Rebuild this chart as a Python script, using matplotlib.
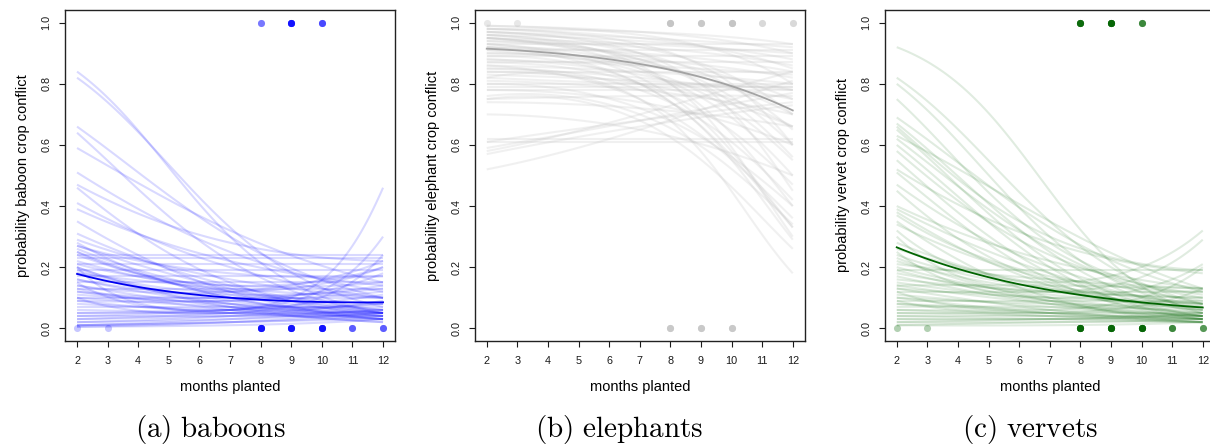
import numpy as np
import matplotlib
matplotlib.use("Agg")
import matplotlib.pyplot as plt

plt.rcParams['font.family'] = ['Liberation Sans', 'DejaVu Sans']
plt.rcParams['mathtext.fontset'] = 'cm'

months = np.arange(2, 13)

baboon_curves = [
    (0.84, 0.30, 0.05), (0.82, 0.33, 0.07), (0.66, 0.30, 0.10), (0.64, 0.22, 0.05),
    (0.59, 0.32, 0.15), (0.51, 0.25, 0.12), (0.47, 0.28, 0.22), (0.46, 0.15, 0.04),
    (0.41, 0.20, 0.10), (0.39, 0.22, 0.14), (0.35, 0.12, 0.03), (0.31, 0.14, 0.06),
    (0.29, 0.16, 0.10), (0.28, 0.10, 0.04), (0.27, 0.18, 0.17), (0.26, 0.12, 0.06),
    (0.25, 0.14, 0.20), (0.25, 0.10, 0.03), (0.24, 0.24, 0.24), (0.23, 0.23, 0.23),
    (0.22, 0.12, 0.08), (0.20, 0.06, 0.46), (0.15, 0.06, 0.30), (0.10, 0.05, 0.24),
    (0.21, 0.21, 0.21), (0.20, 0.12, 0.20), (0.19, 0.19, 0.19), (0.19, 0.09, 0.05),
    (0.18, 0.13, 0.10), (0.17, 0.17, 0.17), (0.16, 0.08, 0.04), (0.16, 0.11, 0.13),
    (0.15, 0.15, 0.15), (0.14, 0.07, 0.03), (0.13, 0.09, 0.18), (0.13, 0.13, 0.13),
    (0.12, 0.06, 0.02), (0.11, 0.08, 0.06), (0.10, 0.10, 0.10), (0.10, 0.07, 0.05),
    (0.09, 0.05, 0.03), (0.09, 0.09, 0.12), (0.08, 0.06, 0.05), (0.07, 0.07, 0.07),
    (0.06, 0.05, 0.04), (0.05, 0.06, 0.08), (0.05, 0.05, 0.05), (0.04, 0.04, 0.04),
    (0.04, 0.06, 0.11), (0.03, 0.05, 0.08), (0.03, 0.04, 0.06), (0.02, 0.04, 0.09),
    (0.02, 0.03, 0.05), (0.01, 0.03, 0.06), (0.01, 0.02, 0.04), (0.01, 0.02, 0.03),
    (0.005, 0.02, 0.05), (0.005, 0.01, 0.03), (0.14, 0.12, 0.22), (0.21, 0.14, 0.15),
    (0.12, 0.10, 0.14), (0.18, 0.08, 0.03), (0.24, 0.11, 0.05), (0.27, 0.13, 0.05),
    (0.20, 0.07, 0.02),
]
baboon_mean = (0.178, 0.100, 0.085)

elephant_curves = [
    (0.99, 0.97, 0.90), (0.99, 0.96, 0.80), (0.98, 0.97, 0.93), (0.98, 0.95, 0.85),
    (0.98, 0.93, 0.60), (0.97, 0.95, 0.92), (0.97, 0.92, 0.70), (0.97, 0.90, 0.45),
    (0.96, 0.94, 0.88), (0.96, 0.90, 0.65), (0.96, 0.86, 0.30), (0.95, 0.93, 0.90),
    (0.95, 0.89, 0.75), (0.95, 0.85, 0.40), (0.94, 0.92, 0.86), (0.94, 0.88, 0.60),
    (0.93, 0.93, 0.93), (0.93, 0.87, 0.70), (0.93, 0.82, 0.33), (0.92, 0.90, 0.84),
    (0.92, 0.85, 0.55), (0.91, 0.91, 0.91), (0.91, 0.86, 0.78), (0.90, 0.84, 0.50),
    (0.90, 0.88, 0.82), (0.89, 0.89, 0.89), (0.89, 0.80, 0.29), (0.88, 0.86, 0.83),
    (0.88, 0.83, 0.66), (0.87, 0.87, 0.87), (0.87, 0.80, 0.47), (0.86, 0.84, 0.80),
    (0.85, 0.82, 0.75), (0.85, 0.78, 0.42), (0.84, 0.84, 0.84), (0.84, 0.80, 0.66),
    (0.83, 0.81, 0.78), (0.82, 0.75, 0.18), (0.82, 0.80, 0.79), (0.81, 0.78, 0.70),
    (0.80, 0.80, 0.80), (0.80, 0.72, 0.40), (0.79, 0.79, 0.79), (0.78, 0.78, 0.78),
    (0.78, 0.74, 0.60), (0.76, 0.70, 0.34), (0.75, 0.76, 0.76), (0.75, 0.68, 0.26),
    (0.74, 0.72, 0.66), (0.70, 0.65, 0.50), (0.62, 0.62, 0.62), (0.61, 0.61, 0.61),
    (0.59, 0.68, 0.77), (0.58, 0.70, 0.84), (0.57, 0.66, 0.73), (0.52, 0.65, 0.81),
    (0.61, 0.68, 0.74), (0.86, 0.75, 0.36), (0.92, 0.80, 0.33), (0.95, 0.88, 0.56),
]
elephant_mean = (0.915, 0.865, 0.713)

vervet_curves = [
    (0.92, 0.45, 0.05), (0.82, 0.35, 0.08), (0.80, 0.30, 0.06), (0.75, 0.28, 0.10),
    (0.69, 0.33, 0.12), (0.67, 0.25, 0.05), (0.66, 0.30, 0.19), (0.65, 0.22, 0.04),
    (0.63, 0.35, 0.13), (0.62, 0.26, 0.08), (0.60, 0.20, 0.03), (0.58, 0.24, 0.11),
    (0.55, 0.18, 0.04), (0.52, 0.28, 0.18), (0.51, 0.16, 0.03), (0.47, 0.20, 0.09),
    (0.45, 0.15, 0.06), (0.40, 0.22, 0.13), (0.39, 0.18, 0.07), (0.38, 0.14, 0.04),
    (0.37, 0.17, 0.12), (0.35, 0.10, 0.02), (0.32, 0.15, 0.32), (0.30, 0.12, 0.29),
    (0.28, 0.13, 0.06), (0.25, 0.10, 0.21), (0.24, 0.13, 0.10), (0.23, 0.09, 0.03),
    (0.22, 0.12, 0.08), (0.21, 0.16, 0.13), (0.20, 0.10, 0.05), (0.19, 0.19, 0.19),
    (0.18, 0.11, 0.07), (0.17, 0.08, 0.03), (0.16, 0.12, 0.10), (0.15, 0.09, 0.05),
    (0.14, 0.14, 0.13), (0.14, 0.08, 0.04), (0.13, 0.10, 0.08), (0.13, 0.06, 0.02),
    (0.12, 0.12, 0.12), (0.11, 0.07, 0.04), (0.10, 0.08, 0.07), (0.10, 0.05, 0.02),
    (0.09, 0.09, 0.09), (0.08, 0.06, 0.04), (0.08, 0.05, 0.03), (0.07, 0.07, 0.06),
    (0.06, 0.05, 0.03), (0.06, 0.04, 0.02), (0.05, 0.05, 0.05), (0.05, 0.04, 0.03),
    (0.04, 0.04, 0.04), (0.04, 0.03, 0.02), (0.03, 0.03, 0.03), (0.03, 0.03, 0.05),
    (0.02, 0.03, 0.04), (0.02, 0.02, 0.03), (0.01, 0.02, 0.02), (0.01, 0.01, 0.02),
    (0.12, 0.06, 0.20), (0.09, 0.05, 0.13), (0.26, 0.14, 0.08), (0.34, 0.16, 0.08),
    (0.19, 0.09, 0.04),
]
vervet_mean = (0.265, 0.125, 0.068)

# observed fields: month, outcome, how many
baboon_obs_x = [8, 9, 10, 2, 3, 8, 9, 10, 11, 12]
baboon_obs_y = [1, 1, 1, 0, 0, 0, 0, 0, 0, 0]
baboon_obs_n = [3, 10, 5, 1, 1, 10, 10, 10, 4, 4]

elephant_obs_x = [2, 3, 8, 9, 10, 11, 12, 8, 9, 10]
elephant_obs_y = [1, 1, 1, 1, 1, 1, 1, 0, 0, 0]
elephant_obs_n = [1, 1, 5, 4, 5, 2, 2, 4, 4, 4]

vervet_obs_x = [8, 9, 10, 2, 3, 8, 9, 10, 11, 12]
vervet_obs_y = [1, 1, 1, 0, 0, 0, 0, 0, 0, 0]
vervet_obs_n = [8, 10, 4, 1, 1, 10, 10, 10, 4, 3]

panels = [
    ("baboon", baboon_curves, baboon_mean, baboon_obs_x, baboon_obs_y, baboon_obs_n,
     "#0000ff", 0.15, "#0000f0", "#0000ff", 0.22, r"$\mathrm{(a)\ baboons}$"),
    ("elephant", elephant_curves, elephant_mean, elephant_obs_x, elephant_obs_y, elephant_obs_n,
     "#bebebe", 0.22, "#a3a3a3", "#bebebe", 0.35, r"$\mathrm{(b)\ elephants}$"),
    ("vervet", vervet_curves, vervet_mean, vervet_obs_x, vervet_obs_y, vervet_obs_n,
     "#006400", 0.12, "#006400", "#006400", 0.3, r"$\mathrm{(c)\ vervets}$"),
]


def logit(p):
    p = np.asarray(p, dtype=float)
    return np.log(p / (1 - p))


def smooth(vals, xs):
    # quadratic on the logit scale through the readings at 2, 7 and 12
    l2, l7, l12 = logit(vals)
    b = (l12 - l2) / 10.0
    c = (l12 + l2 - 2 * l7) / 50.0
    z = l7 + b * (xs - 7) + c * (xs - 7) ** 2
    return 1 / (1 + np.exp(-z))


W, H = 1210, 447
fig = plt.figure(figsize=(W / 100, H / 100), dpi=100)

xs = np.linspace(2, 12, 120)
lefts = [64.8, 474.5, 884.5]
for (name, curves, mean, ox, oy, on, col, alpha, mcol, pcol, palpha, cap), left in zip(panels, lefts):
    ax = fig.add_axes([left / W, 1 - 340.5 / H, 330.5 / W, 330 / H])
    for cv in curves:
        ax.plot(xs, smooth(cv, xs), color=col, alpha=alpha, lw=1.5, solid_capstyle='butt')
    ax.plot(xs, smooth(mean, xs), color=mcol, lw=1.3)
    px = np.repeat(ox, on)
    py = np.repeat(oy, on)
    ax.scatter(px, py, s=26, color=pcol, alpha=palpha, linewidths=0, zorder=3)

    ax.set_xlim(1.6, 12.4)
    ax.set_ylim(-0.04, 1.04)
    ax.set_xticks(months)
    ax.set_xticklabels([str(m) for m in months])
    yt = [0.0, 0.2, 0.4, 0.6, 0.8, 1.0]
    ax.set_yticks(yt)
    ax.set_yticklabels([f"{v:.1f}" for v in yt], rotation=90, va='center')
    ax.tick_params(direction='out', length=4.5, width=0.8, labelsize=7.8,
                   colors='#1a1a1a')
    ax.tick_params(axis='x', pad=6.5)
    ax.tick_params(axis='y', pad=5)
    for sp in ax.spines.values():
        sp.set_linewidth(1.0)
        sp.set_color('#222222')
    ax.set_xlabel("months planted", fontsize=10.5, labelpad=10)
    ax.set_ylabel(f"probability {name} crop conflict", fontsize=10.5, labelpad=8)

    fig.text((left + 145) / W, (H - 437) / H, cap, fontsize=21, ha='center',
             va='baseline')

fig.savefig("out.png", dpi=100)
